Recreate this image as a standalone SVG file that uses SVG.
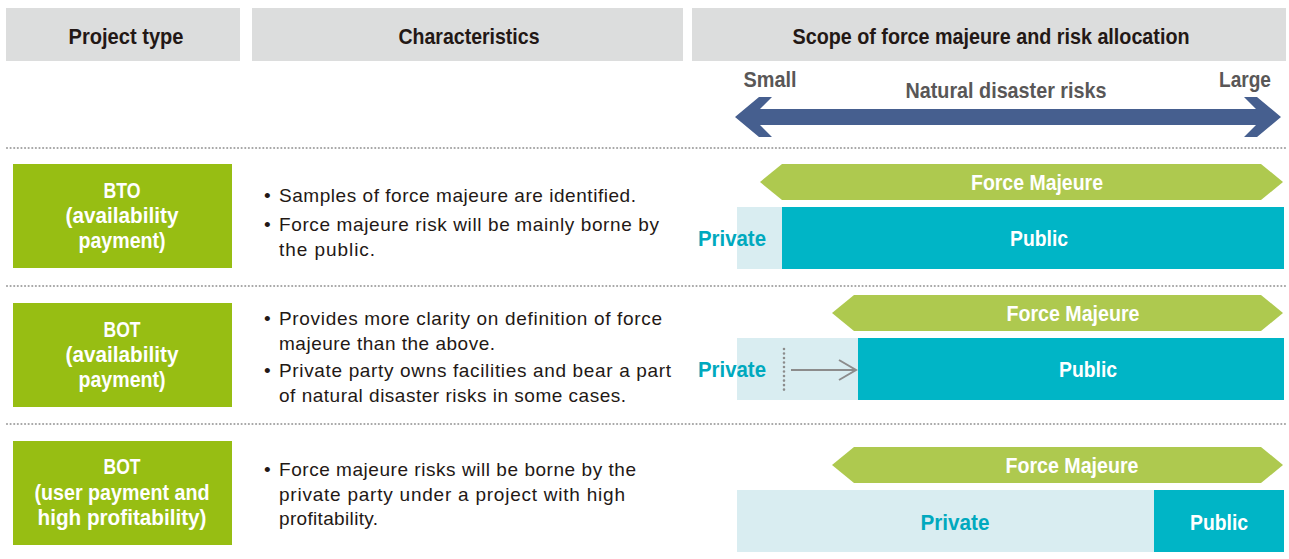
<svg xmlns="http://www.w3.org/2000/svg" width="1289" height="559" viewBox="0 0 1289 559">
<style>
.hdr{fill:#dcdddd}
.htxt{font-family:"Liberation Sans",Arial,sans-serif;font-weight:bold;font-size:22px;fill:#231815;text-anchor:middle}
.gtxt{font-family:"Liberation Sans",Arial,sans-serif;font-weight:bold;font-size:22px;fill:#595757;text-anchor:middle}
.type{fill:#97be13}
.ttxt{font-family:"Liberation Sans",Arial,sans-serif;font-weight:bold;font-size:22px;fill:#ffffff;text-anchor:middle}
.body{font-family:"Liberation Sans",Arial,sans-serif;font-size:19px;fill:#231815}
.fm{fill:#aec94f}
.fmtxt{font-family:"Liberation Sans",Arial,sans-serif;font-weight:bold;font-size:22px;fill:#ffffff;text-anchor:middle}
.pub{fill:#00b5c6}
.priv{fill:#d9edf1}
.pubtxt{font-family:"Liberation Sans",Arial,sans-serif;font-weight:bold;font-size:22px;fill:#ffffff;text-anchor:middle}
.privtxt{font-family:"Liberation Sans",Arial,sans-serif;font-weight:bold;font-size:22px;fill:#00a9be;text-anchor:middle}
.sep{stroke:#a3a3a3;stroke-width:2.2;stroke-linecap:round;stroke-dasharray:0.01 3.6;fill:none}
</style>

<g id="headers">
  <rect class="hdr" x="6" y="8" width="234" height="53"/>
  <rect class="hdr" x="252" y="8" width="431" height="53"/>
  <rect class="hdr" x="692" y="8" width="594" height="53"/>
  <text class="htxt" x="126" y="44" textLength="115" lengthAdjust="spacingAndGlyphs">Project type</text>
  <text class="htxt" x="469" y="44" textLength="141" lengthAdjust="spacingAndGlyphs">Characteristics</text>
  <text class="htxt" x="991" y="44" textLength="397" lengthAdjust="spacingAndGlyphs">Scope of force majeure and risk allocation</text>
</g>

<g id="scale-labels">
  <text class="gtxt" x="770" y="87" textLength="53" lengthAdjust="spacingAndGlyphs">Small</text>
  <text class="gtxt" x="1245" y="87" textLength="52" lengthAdjust="spacingAndGlyphs">Large</text>
  <text class="gtxt" x="1006" y="98" textLength="201" lengthAdjust="spacingAndGlyphs">Natural disaster risks</text>
</g>

<g id="separators">
  <line class="sep" x1="7" y1="148" x2="1288" y2="148"/>
  <line class="sep" x1="7" y1="286" x2="1288" y2="286"/>
  <line class="sep" x1="7" y1="424" x2="1288" y2="424"/>
</g>

<g id="row1-type">
  <rect class="type" x="13" y="164" width="219" height="104"/>
  <text class="ttxt" x="122" y="198" textLength="37" lengthAdjust="spacingAndGlyphs">BTO</text>
  <text class="ttxt" x="122" y="223" textLength="113" lengthAdjust="spacingAndGlyphs">(availability</text>
  <text class="ttxt" x="122" y="248" textLength="87" lengthAdjust="spacingAndGlyphs">payment)</text>
</g>
<g id="row1-characteristics">
  <text class="body" x="264" y="202">•</text>
  <text class="body" x="279" y="202" textLength="357">Samples of force majeure are identified.</text>
  <text class="body" x="264" y="231">•</text>
  <text class="body" x="279" y="231" textLength="380">Force majeure risk will be mainly borne by</text>
  <text class="body" x="279" y="256" textLength="96">the public.</text>
</g>
<g id="row1-scope">
  <polygon class="fm" points="760,182 782,164 1261,164 1283,182 1261,200 782,200"/>
  <text class="fmtxt" x="1037" y="190" textLength="132" lengthAdjust="spacingAndGlyphs">Force Majeure</text>
  <rect class="priv" x="737" y="207" width="45" height="62"/>
  <rect class="pub" x="782" y="207" width="502" height="62"/>
  <text class="privtxt" x="732" y="246" textLength="68" lengthAdjust="spacingAndGlyphs">Private</text>
  <text class="pubtxt" x="1039" y="246" textLength="58" lengthAdjust="spacingAndGlyphs">Public</text>
</g>

<g id="row2-type">
  <rect class="type" x="13" y="303" width="219" height="104"/>
  <text class="ttxt" x="122" y="337" textLength="37" lengthAdjust="spacingAndGlyphs">BOT</text>
  <text class="ttxt" x="122" y="362" textLength="113" lengthAdjust="spacingAndGlyphs">(availability</text>
  <text class="ttxt" x="122" y="387" textLength="87" lengthAdjust="spacingAndGlyphs">payment)</text>
</g>
<g id="row2-characteristics">
  <text class="body" x="264" y="325">•</text>
  <text class="body" x="279" y="325" textLength="383">Provides more clarity on definition of force</text>
  <text class="body" x="279" y="350" textLength="216">majeure than the above.</text>
  <text class="body" x="264" y="377">•</text>
  <text class="body" x="279" y="377" textLength="392">Private party owns facilities and bear a part</text>
  <text class="body" x="279" y="402" textLength="347">of natural disaster risks in some cases.</text>
</g>
<g id="row2-scope">
  <polygon class="fm" points="832,313 854,295 1261,295 1283,313 1261,331 854,331"/>
  <text class="fmtxt" x="1073" y="321" textLength="133" lengthAdjust="spacingAndGlyphs">Force Majeure</text>
  <rect class="priv" x="737" y="338" width="121" height="62"/>
  <rect class="pub" x="858" y="338" width="426" height="62"/>
  <text class="privtxt" x="732" y="377" textLength="68" lengthAdjust="spacingAndGlyphs">Private</text>
  <text class="pubtxt" x="1088" y="377" textLength="58" lengthAdjust="spacingAndGlyphs">Public</text>
</g>

<g id="row3-type">
  <rect class="type" x="13" y="441" width="219" height="104"/>
  <text class="ttxt" x="122" y="474" textLength="37" lengthAdjust="spacingAndGlyphs">BOT</text>
  <text class="ttxt" x="122" y="500" textLength="175" lengthAdjust="spacingAndGlyphs">(user payment and</text>
  <text class="ttxt" x="122" y="525" textLength="169" lengthAdjust="spacingAndGlyphs">high profitability)</text>
</g>
<g id="row3-characteristics">
  <text class="body" x="264" y="476">•</text>
  <text class="body" x="279" y="476" textLength="357">Force majeure risks will be borne by the</text>
  <text class="body" x="279" y="501" textLength="346">private party under a project with high</text>
  <text class="body" x="279" y="525" textLength="99">profitability.</text>
</g>
<g id="row3-scope">
  <polygon class="fm" points="832,465 854,447 1261,447 1283,465 1261,483 854,483"/>
  <text class="fmtxt" x="1072" y="473" textLength="133" lengthAdjust="spacingAndGlyphs">Force Majeure</text>
  <rect class="priv" x="737" y="490" width="417" height="62"/>
  <rect class="pub" x="1154" y="490" width="130" height="62"/>
  <text class="privtxt" x="955" y="530" textLength="69" lengthAdjust="spacingAndGlyphs">Private</text>
  <text class="pubtxt" x="1219" y="530" textLength="58" lengthAdjust="spacingAndGlyphs">Public</text>
</g>

<g id="connectors">
  <polygon id="risk-scale-arrow" fill="#465f8f" points="735,117 759,97 772,97 760,109 1256,109 1244,97 1257,97 1281,117 1257,137 1244,137 1256,125 760,125 772,137 759,137"/>
  <g id="shift-arrow">
    <line x1="784" y1="349" x2="784" y2="394" stroke="#8c8c8c" stroke-width="2.6" stroke-linecap="round" stroke-dasharray="0.01 4.5"/>
    <line x1="791" y1="370" x2="856" y2="370" stroke="#8c8c8c" stroke-width="2"/>
    <polyline points="839,360 856,370 839,380" fill="none" stroke="#8c8c8c" stroke-width="2"/>
  </g>
</g>
</svg>
